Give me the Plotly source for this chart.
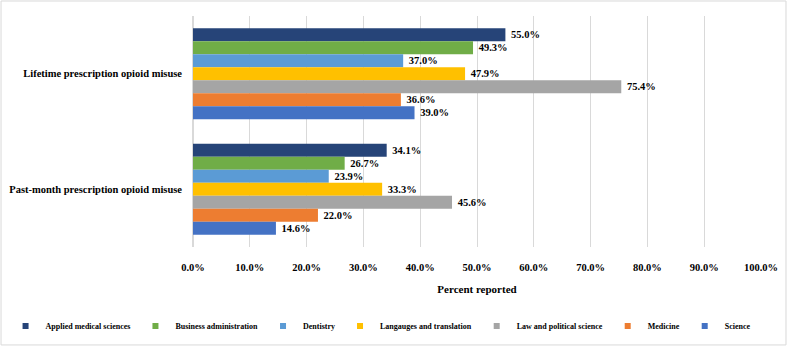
import plotly.graph_objects as go

categories = ["Lifetime prescription opioid misuse", "Past-month prescription opioid misuse"]
series_names = ["Applied medical sciences", "Business administration", "Dentistry",
                "Langauges and translation", "Law and political science", "Medicine", "Science"]
applied_medical = [0.550, 0.341]
business_admin = [0.493, 0.267]
dentistry = [0.370, 0.239]
languages = [0.479, 0.333]
law_political = [0.754, 0.456]
medicine = [0.366, 0.220]
science = [0.390, 0.146]
series_values = [applied_medical, business_admin, dentistry, languages, law_political, medicine, science]
colors = ["#264478", "#70AD47", "#5B9BD5", "#FFC000", "#A5A5A5", "#ED7D31", "#4472C4"]

FONT = "Liberation Serif, Times New Roman, serif"

fig = go.Figure()
for name, vals, col in zip(series_names, series_values, colors):
    fig.add_trace(go.Bar(
        y=categories, x=vals, name=name, orientation="h",
        marker=dict(color=col, line=dict(width=0)),
        texttemplate="\u00a0%{x:.1%}", textposition="outside",
        textfont=dict(family=FONT, size=10.5, color="black", weight="bold"),
        cliponaxis=False, constraintext="none",
        legendgroup=name, showlegend=False,
    ))
# small square legend keys (legend-only entries)
for name, col in zip(series_names, colors):
    fig.add_trace(go.Scatter(
        x=[None], y=[None], mode="markers", name=name, legendgroup=name,
        marker=dict(symbol="square", size=6, color=col), showlegend=True,
    ))

fig.update_layout(
    width=787, height=347,
    barmode="group", bargap=0.21, bargroupgap=0,
    plot_bgcolor="white", paper_bgcolor="white",
    margin=dict(l=193, r=26, t=16, b=100, autoexpand=False),
    font=dict(family=FONT, size=10.5, color="black", weight="bold"),
    xaxis=dict(range=[0, 1], dtick=0.1, tickformat=".1%", showgrid=True, automargin=False,
               gridcolor="#D9D9D9", gridwidth=1, zeroline=True, zerolinecolor="#D9D9D9",
               showline=False, ticks="", ticklabelstandoff=12,
               tickfont=dict(family=FONT, size=10.5, color="black", weight="bold"),
               title=dict(text="Percent reported", standoff=13,
                          font=dict(family=FONT, size=11, color="black", weight="bold"))),
    yaxis=dict(autorange="reversed", showgrid=False, showline=False, ticks="", automargin=False,
               ticklabelstandoff=10, categoryorder="array", categoryarray=categories,
               tickfont=dict(family=FONT, size=10.5, color="black", weight="bold")),
    legend=dict(orientation="h", x=-0.33, xanchor="left",
                y=-0.342, yanchor="middle",
                font=dict(family=FONT, size=8, color="black", weight="bold"),
                itemwidth=30, traceorder="normal", tracegroupgap=0),
    shapes=[dict(type="rect", xref="paper", yref="paper",
                 x0=-0.338, x1=1.044, y0=-0.424, y1=1.065,
                 line=dict(color="#D9D9D9", width=1), fillcolor="rgba(0,0,0,0)", layer="below")],
)

fig.write_html("out.html", config={"displayModeBar": False},
               post_script="document.body.style.margin='0';")
